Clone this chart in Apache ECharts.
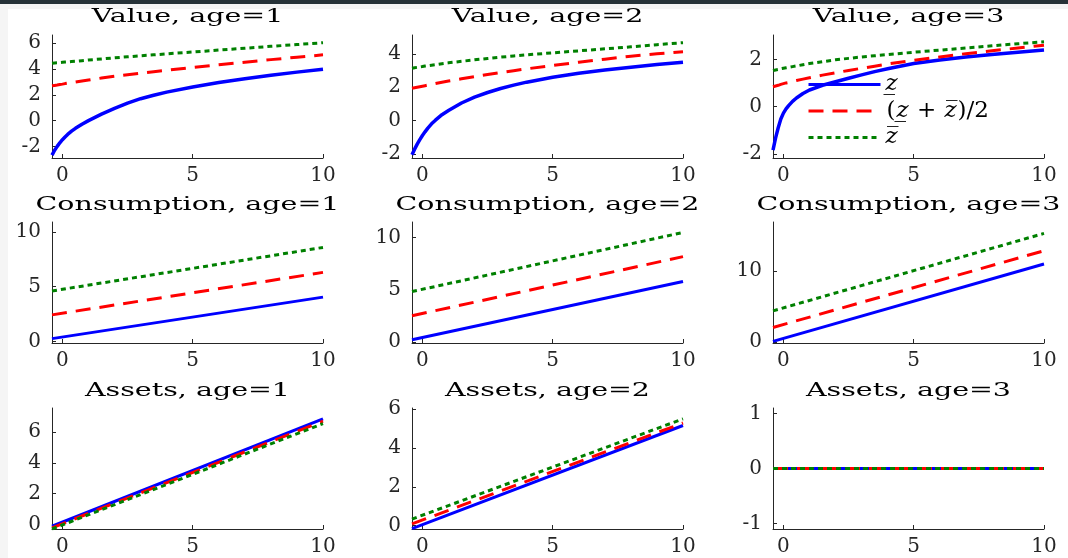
<!DOCTYPE html>
<html>
<head>
<meta charset="utf-8">
<script src="https://cdn.jsdelivr.net/npm/echarts@6/dist/echarts.min.js"></script>
<style>
    html, body { margin: 0; padding: 0; background: #fff; }
    #chart { width: 1068px; height: 558px; }
</style>
</head>
<body>
<div id="chart"></div>
<script>
// asset grid
const xFine = [-0.4, -0.3, -0.2, -0.1, 0, 0.1, 0.2, 0.35, 0.5, 0.75, 1, 1.5, 2, 2.5, 3, 3.5, 4, 5, 6, 7, 8, 9, 10];
const xEnds = [-0.4, 10];

// value functions (low z / mid z / high z)
const vLow1 = [-2.68, -2.3, -2.0, -1.72, -1.48, -1.27, -1.07, -0.82, -0.6, -0.28, 0.0, 0.5, 0.95, 1.36, 1.7, 1.97, 2.21, 2.61, 2.95, 3.25, 3.52, 3.76, 3.98];
const vMid1 = [2.70, 2.73, 2.76, 2.8, 2.83, 2.87, 2.9, 2.95, 3.0, 3.08, 3.15, 3.3, 3.44, 3.56, 3.68, 3.79, 3.9, 4.12, 4.33, 4.53, 4.73, 4.92, 5.1];
const vHigh1 = [4.45, 4.47, 4.48, 4.5, 4.52, 4.54, 4.55, 4.58, 4.6, 4.65, 4.7, 4.78, 4.87, 4.95, 5.03, 5.1, 5.18, 5.32, 5.47, 5.61, 5.76, 5.9, 6.04];
const vLow2 = [-2.05, -1.72, -1.42, -1.15, -0.9, -0.68, -0.47, -0.2, 0.02, 0.35, 0.6, 1.05, 1.4, 1.68, 1.92, 2.12, 2.3, 2.6, 2.84, 3.03, 3.2, 3.36, 3.5];
const vMid2 = [1.94, 1.97, 2.0, 2.03, 2.06, 2.09, 2.12, 2.17, 2.22, 2.3, 2.37, 2.5, 2.63, 2.76, 2.88, 2.99, 3.1, 3.3, 3.5, 3.68, 3.86, 4.0, 4.13];
const vHigh2 = [3.14, 3.17, 3.19, 3.22, 3.24, 3.27, 3.29, 3.32, 3.35, 3.41, 3.46, 3.55, 3.64, 3.72, 3.8, 3.87, 3.94, 4.06, 4.18, 4.3, 4.42, 4.55, 4.67];
const vLow3 = [-1.85, -1.33, -0.9, -0.53, -0.28, -0.1, 0.04, 0.22, 0.36, 0.55, 0.7, 0.9, 1.05, 1.2, 1.34, 1.48, 1.6, 1.82, 1.97, 2.1, 2.2, 2.3, 2.39];
const vMid3 = [0.84, 0.87, 0.9, 0.94, 0.97, 1.0, 1.02, 1.06, 1.1, 1.16, 1.22, 1.33, 1.43, 1.53, 1.62, 1.71, 1.8, 1.96, 2.1, 2.24, 2.36, 2.48, 2.6];
const vHigh3 = [1.52, 1.55, 1.57, 1.6, 1.62, 1.64, 1.66, 1.69, 1.72, 1.77, 1.82, 1.9, 1.98, 2.04, 2.1, 2.15, 2.2, 2.3, 2.39, 2.48, 2.57, 2.66, 2.74];

// consumption (straight lines, end points)
const cLow1 = [0.25, 4.04], cMid1 = [2.42, 6.3], cHigh1 = [4.6, 8.58];
const cLow2 = [0.22, 5.79], cMid2 = [2.51, 8.18], cHigh2 = [4.83, 10.5];
const cLow3 = [0.09, 10.98], cMid3 = [2.05, 12.85], cHigh3 = [4.39, 15.29];

// assets
const aLow1 = [-0.12, 6.87], aMid1 = [-0.22, 6.72], aHigh1 = [-0.3, 6.56];
const aLow2 = [-0.15, 5.15], aMid2 = [0.09, 5.28], aHigh2 = [0.34, 5.49];
const aLow3 = [0, 0], aMid3 = [0, 0], aHigh3 = [0, 0];

// axis ticks
const xTicks = [0, 5, 10];
const yTicks = [
    [-2, 0, 2, 4, 6], [-2, 0, 2, 4], [-2, 0, 2],
    [0, 5, 10], [0, 5, 10], [0, 10],
    [0, 2, 4, 6], [0, 2, 4, 6], [-1, 0, 1]
];
const yRange = [
    [-2.9, 6.64], [-2.25, 5.13], [-2.18, 3.03],
    [-0.15, 10.9], [-0.1, 11.5], [-0.14, 16.9],
    [-0.3, 7.58], [-0.17, 6.05], [-1.1, 1.1]
];
const titles = [
    'Value, age=1', 'Value, age=2', 'Value, age=3',
    'Consumption, age=1', 'Consumption, age=2', 'Consumption, age=3',
    'Assets, age=1', 'Assets, age=2', 'Assets, age=3'
];

const nameLow = 'z\u0332';
const nameMid = '(z\u0332 + z\u0305)/2';
const nameHigh = 'z\u0305';

const panels = [
    { x: xFine, lines: [vLow1, vMid1, vHigh1] },
    { x: xFine, lines: [vLow2, vMid2, vHigh2] },
    { x: xFine, lines: [vLow3, vMid3, vHigh3] },
    { x: xEnds, lines: [cLow1, cMid1, cHigh1] },
    { x: xEnds, lines: [cLow2, cMid2, cHigh2] },
    { x: xEnds, lines: [cLow3, cMid3, cHigh3] },
    { x: xEnds, lines: [aLow1, aMid1, aHigh1] },
    { x: xEnds, lines: [aLow2, aMid2, aHigh2] },
    { x: xEnds, lines: [aLow3, aMid3, aHigh3] }
];

// layout
const colLeft = [52, 412, 773];
const rowTop = [35, 222, 408];
const rowHeight = [123, 121, 121];
const plotWidth = 271;
const titleY = [17, 205, 391];

const font = 'DejaVu Serif';
const axisColor = '#262626';
const lineDefs = [
    { name: nameLow, color: '#0000ff', type: 'solid' },
    { name: nameMid, color: '#ff0000', type: [15, 9] },
    { name: nameHigh, color: '#008000', type: [5, 4] }
];

const grids = [], xAxes = [], yAxes = [], series = [], graphics = [];

// background / frame
graphics.push({ type: 'rect', shape: { x: 0, y: 0, width: 1068, height: 558 }, style: { fill: '#f5f5f5' }, z: -10 });
graphics.push({ type: 'rect', shape: { x: 8, y: 9, width: 1060, height: 549 }, style: { fill: '#ffffff' }, z: -9 });
graphics.push({ type: 'rect', shape: { x: 0, y: 0, width: 1068, height: 4 }, style: { fill: '#263238' }, z: -8 });

panels.forEach((p, i) => {
    const r = Math.floor(i / 3), c = i % 3;
    grids.push({ left: colLeft[c], top: rowTop[r], width: plotWidth, height: rowHeight[r] });
    xAxes.push({
        type: 'value', gridIndex: i, min: -0.4, max: 10,
        axisLine: { show: true, onZero: false, lineStyle: { color: axisColor, width: 1 } },
        axisTick: { show: true, inside: true, length: 4, customValues: xTicks, lineStyle: { color: axisColor } },
        axisLabel: { customValues: xTicks, margin: 8, fontFamily: font, fontSize: 20, color: axisColor },
        splitLine: { show: false }
    });
    yAxes.push({
        type: 'value', gridIndex: i, min: yRange[i][0], max: yRange[i][1],
        axisLine: { show: true, onZero: false, lineStyle: { color: axisColor, width: 1 } },
        axisTick: { show: true, inside: true, length: 4, customValues: yTicks[i], lineStyle: { color: axisColor } },
        axisLabel: { customValues: yTicks[i], margin: 11, fontFamily: font, fontSize: 20, color: axisColor },
        splitLine: { show: false }
    });
    p.lines.forEach((ys, k) => {
        const d = lineDefs[k];
        series.push({
            type: 'line', name: d.name, xAxisIndex: i, yAxisIndex: i,
            data: ys.map((y, j) => [p.x[j], y]),
            symbol: 'none', showSymbol: false, silent: true, z: 2 + k,
            itemStyle: { color: d.color },
            lineStyle: { color: d.color, width: (k === 0 && r === 0) ? 3.5 : 3, type: d.type, cap: 'butt', join: 'round' }
        });
    });
    graphics.push({
        type: 'text', x: colLeft[c] + plotWidth / 2, y: titleY[r], scaleX: 1.5,
        style: { text: titles[i], fontFamily: font, fontSize: 19, fill: '#000', align: 'center', verticalAlign: 'middle' }
    });
});

const chart = echarts.init(document.getElementById('chart'));
chart.setOption({
    animation: false,
    backgroundColor: '#fff',
    grid: grids,
    xAxis: xAxes,
    yAxis: yAxes,
    series: series,
    graphic: graphics,
    legend: {
        data: [nameLow, nameMid, nameHigh],
        orient: 'vertical', left: 807, top: 73, padding: 0,
        itemWidth: 72, itemHeight: 14, itemGap: 3.5,
        selectedMode: false,
        itemStyle: { opacity: 0, color: 'rgba(0,0,0,0)', borderWidth: 0 },
        lineStyle: { width: 3 },
        textStyle: {
            fontFamily: font, fontSize: 23, color: '#000', lineHeight: 20,
            rich: {
                z: { fontStyle: 'italic', lineHeight: 20, fontSize: 23 },
                p: { lineHeight: 20, fontSize: 23, padding: [0, 1, 0, 1] }
            }
        },
        formatter: name => {
            if (name === nameLow) return '{z|' + nameLow + '}';
            if (name === nameHigh) return '{z|' + nameHigh + '}';
            return '{p|(}{z|' + nameLow + '}{p| + }{z|' + nameHigh + '}{p|)/2}';
        }
    }
});
</script>
</body>
</html>
